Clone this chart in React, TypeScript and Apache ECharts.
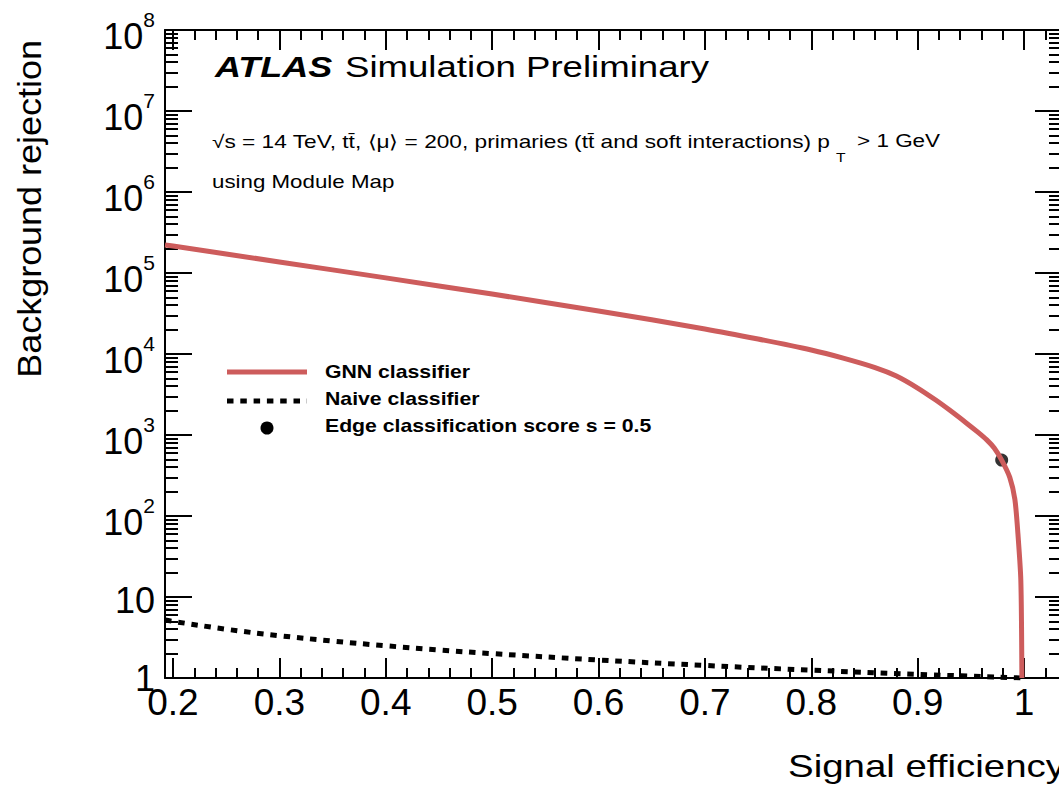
import React, { useEffect, useRef } from "react";
import * as echarts from "echarts";

// ---- data ----
const xMajorTicks = [0.2, 0.3, 0.4, 0.5, 0.6, 0.7, 0.8, 0.9, 1.0];
const yDecades = [0, 1, 2, 3, 4, 5, 6, 7, 8];

const gnnEff = [
  0.1925, 0.2, 0.3, 0.4, 0.5, 0.6, 0.7, 0.75, 0.8, 0.83, 0.86, 0.88, 0.9, 0.917,
  0.93, 0.946, 0.956, 0.965, 0.972, 0.979, 0.9866, 0.9914, 0.9942, 0.997, 0.998,
];
const gnnRej = [
  221800, 215000, 137000, 87000, 55000, 34000, 20400, 15300, 11200, 8900, 6800,
  5350, 3800, 2700, 2030, 1400, 1100, 870, 690, 490, 300, 160, 62, 16, 1,
];

const naiveEff = [0.1925, 0.2, 0.25, 0.3, 0.35, 0.4, 0.45, 0.5, 0.6, 0.7, 0.8, 0.9, 1.0];
const naiveRej = [5.19, 5.0, 4.0, 3.33, 2.86, 2.5, 2.22, 2.0, 1.67, 1.43, 1.25, 1.11, 1.0];

const wpEff = [0.979];
const wpRej = [490];

// ---- styling ----
const FONT = "'Liberation Sans', Arial, Helvetica, sans-serif";
const BLACK = "#000000";
const RED = "#cd5c5c";

const xMinorTicks: number[] = [];
for (let i = 0; i <= 41; i++) xMinorTicks.push(Math.round((0.2 + i * 0.02) * 1000) / 1000);
const yMinorTicks: number[] = [];
for (let n = 0; n < 8; n++) for (let k = 2; k <= 9; k++) yMinorTicks.push(n + Math.log10(k));

export default function App() {
  const ref = useRef<HTMLDivElement>(null);
  useEffect(() => {
    if (!ref.current) return;
    const chart = echarts.init(ref.current, undefined, { renderer: "svg" });

    const X_MIN = 0.1925;
    const X_MAX = 1.0357;
    const tickLine = { color: BLACK, width: 2 };
    const baseX: any = {
      type: "value",
      min: X_MIN,
      max: X_MAX,
      splitLine: { show: false },
      axisLine: { show: false, onZero: false },
      axisLabel: { show: false },
      axisTick: { show: false },
    };
    const baseY: any = {
      type: "value",
      min: 0,
      max: 8,
      interval: 1,
      splitLine: { show: false },
      axisLine: { show: false, onZero: false },
      axisLabel: { show: false },
      axisTick: { show: false },
    };

    const txt = (
      text: string,
      x: number,
      y: number,
      fontSize: number,
      scaleX: number,
      extra: any = {}
    ) => ({
      type: "text",
      x,
      y,
      scaleX,
      style: {
        text,
        fontSize,
        fontFamily: FONT,
        fill: BLACK,
        align: "left",
        verticalAlign: "middle",
        textAlign: "left",
        textVerticalAlign: "middle",
        ...extra,
      },
    });

    chart.setOption({
      animation: false,
      backgroundColor: "#ffffff",
      grid: {
        left: 165,
        right: -3,
        top: 30,
        bottom: 111,
        containLabel: false,
        outerBoundsMode: "none",
      },
      xAxis: [
        {
          ...baseX,
          position: "bottom",
          axisLine: { show: true, onZero: false, lineStyle: tickLine },
          axisTick: { show: true, inside: true, length: 20, customValues: xMajorTicks, lineStyle: tickLine },
          axisLabel: {
            show: true,
            customValues: xMajorTicks,
            fontSize: 37,
            fontFamily: FONT,
            color: BLACK,
            margin: 6,
            formatter: (v: number) => String(Math.round(v * 10) / 10),
          },
        },
        {
          ...baseX,
          position: "bottom",
          axisTick: { show: true, inside: true, length: 10, customValues: xMinorTicks, lineStyle: tickLine },
        },
        {
          ...baseX,
          position: "top",
          axisLine: { show: true, onZero: false, lineStyle: tickLine },
          axisTick: { show: true, inside: true, length: 20, customValues: xMajorTicks, lineStyle: tickLine },
        },
        {
          ...baseX,
          position: "top",
          axisTick: { show: true, inside: true, length: 10, customValues: xMinorTicks, lineStyle: tickLine },
        },
      ],
      yAxis: [
        {
          type: "log",
          logBase: 10,
          min: 1,
          max: 1e8,
          position: "left",
          splitLine: { show: false },
          axisLine: { show: false, onZero: false },
          axisLabel: { show: false },
          axisTick: { show: false },
        },
        {
          ...baseY,
          position: "left",
          axisLine: { show: true, onZero: false, lineStyle: tickLine },
          axisTick: { show: true, inside: true, length: 27, customValues: yDecades, lineStyle: tickLine },
          axisLabel: {
            show: true,
            customValues: yDecades,
            margin: 10,
            showMinLabel: true,
            showMaxLabel: true,
            hideOverlap: false,
            formatter: (v: number) => {
              const n = Math.round(v);
              if (n === 0) return "{c|1}";
              if (n === 1) return "{e|10}";
              return `{b|10}{s|${n}}`;
            },
            rich: {
              c: { fontSize: 36, fontFamily: FONT, color: BLACK },
              e: { fontSize: 36, fontFamily: FONT, color: BLACK, padding: [6, 0, 0, 0] },
              b: { fontSize: 36, fontFamily: FONT, color: BLACK, padding: [12, 0, 0, 0], verticalAlign: "bottom" },
              s: { fontSize: 21, fontFamily: FONT, color: BLACK, padding: [3, 0, 0, 0], verticalAlign: "top" },
            },
          },
        },
        {
          ...baseY,
          position: "left",
          axisTick: { show: true, inside: true, length: 13, customValues: yMinorTicks, lineStyle: tickLine },
        },
        {
          ...baseY,
          position: "right",
          axisLine: { show: true, onZero: false, lineStyle: tickLine },
          axisTick: { show: true, inside: true, length: 27, customValues: yDecades, lineStyle: tickLine },
        },
        {
          ...baseY,
          position: "right",
          axisTick: { show: true, inside: true, length: 13, customValues: yMinorTicks, lineStyle: tickLine },
        },
      ],
      series: [
        {
          name: "Naive classifier",
          type: "line",
          xAxisIndex: 0,
          yAxisIndex: 0,
          data: naiveEff.map((x, i) => [x, naiveRej[i]]),
          symbol: "none",
          smooth: 0.4,
          lineStyle: { color: BLACK, width: 5, type: [6.5, 6.8], cap: "butt" },
        },
        {
          name: "GNN classifier",
          type: "line",
          xAxisIndex: 0,
          yAxisIndex: 0,
          data: gnnEff.map((x, i) => [x, gnnRej[i]]),
          symbol: "none",
          smooth: 0.25,
          lineStyle: { color: RED, width: 5, join: "round" },
        },
        {
          name: "Edge classification score s = 0.5",
          type: "scatter",
          xAxisIndex: 0,
          yAxisIndex: 0,
          data: wpEff.map((x, i) => [x, wpRej[i]]),
          symbol: "circle",
          symbolSize: 13,
          itemStyle: { color: BLACK },
        },
      ],
      graphic: [
        {
          type: "text",
          x: 30,
          y: 40,
          rotation: Math.PI / 2,
          scaleX: 1.09,
          style: {
            text: "Background rejection",
            fontSize: 33,
            fontFamily: FONT,
            fill: BLACK,
            align: "right",
            verticalAlign: "middle",
            textAlign: "right",
            textVerticalAlign: "middle",
          },
        },
        txt("Signal efficiency", 788, 766, 31, 1.24),
        txt("ATLAS", 215, 67, 30, 1.2, { fontWeight: "bold", fontStyle: "italic" }),
        txt("Simulation Preliminary", 345, 67, 30, 1.22),
        txt("\u221As = 14 TeV, tt\u0304, \u27E8\u03BC\u27E9 = 200, primaries (tt\u0304 and soft interactions) p", 212, 141, 18, 1.26),
        txt("T", 836, 157, 13, 1.2),
        txt("> 1 GeV", 857, 141, 18, 1.25),
        txt("using Module Map", 212, 182, 18, 1.24),
        // legend
        {
          type: "line",
          shape: { x1: 227, y1: 372, x2: 307, y2: 372 },
          style: { stroke: RED, lineWidth: 5 },
        },
        {
          type: "line",
          shape: { x1: 227, y1: 401, x2: 307, y2: 401 },
          style: { stroke: BLACK, lineWidth: 5, lineDash: [6.5, 6.8] },
        },
        {
          type: "circle",
          shape: { cx: 267, cy: 428, r: 6.5 },
          style: { fill: BLACK },
        },
        txt("GNN classifier", 325, 372, 18, 1.18, { fontWeight: "bold" }),
        txt("Naive classifier", 325, 399, 18, 1.18, { fontWeight: "bold" }),
        txt("Edge classification score s = 0.5", 325, 426, 18, 1.18, { fontWeight: "bold" }),
      ],
    });
    return () => chart.dispose();
  }, []);

  return (
    <div
      ref={ref}
      style={{ position: "fixed", left: 0, top: 0, width: 1059, height: 789, background: "#fff" }}
    />
  );
}
